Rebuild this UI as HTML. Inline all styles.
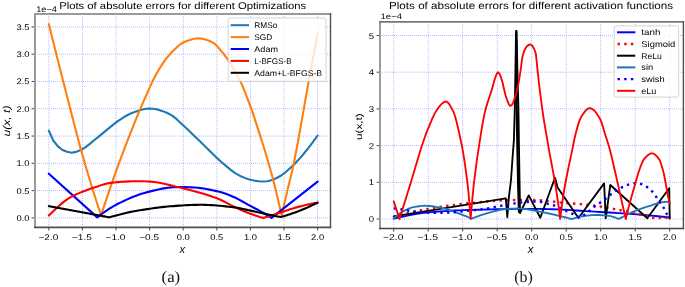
<!DOCTYPE html>
<html><head><meta charset="utf-8"><title>Plots of absolute errors</title>
<style>html,body{margin:0;padding:0;background:#fff;width:685px;height:287px;overflow:hidden}svg{display:block;will-change:transform;text-rendering:geometricPrecision}</style>
</head><body>
<svg width="685" height="287" viewBox="0 0 685 287">
<defs><clipPath id="cl"><rect x="35" y="14" width="295.5" height="213.4"/></clipPath><clipPath id="cr"><rect x="380" y="22" width="303.4" height="206.4"/></clipPath></defs>
<rect width="685" height="287" fill="#fff"/>
<g stroke="#7a7aff" stroke-opacity="0.6" stroke-width="0.9" stroke-dasharray="1 1" fill="none">
<line x1="48.85" y1="14" x2="48.85" y2="227.4"/>
<line x1="82.44" y1="14" x2="82.44" y2="227.4"/>
<line x1="116.04" y1="14" x2="116.04" y2="227.4"/>
<line x1="149.63" y1="14" x2="149.63" y2="227.4"/>
<line x1="183.23" y1="14" x2="183.23" y2="227.4"/>
<line x1="216.82" y1="14" x2="216.82" y2="227.4"/>
<line x1="250.42" y1="14" x2="250.42" y2="227.4"/>
<line x1="284.01" y1="14" x2="284.01" y2="227.4"/>
<line x1="317.61" y1="14" x2="317.61" y2="227.4"/>
<line x1="35" y1="217.90" x2="330.5" y2="217.90"/>
<line x1="35" y1="190.62" x2="330.5" y2="190.62"/>
<line x1="35" y1="163.33" x2="330.5" y2="163.33"/>
<line x1="35" y1="136.05" x2="330.5" y2="136.05"/>
<line x1="35" y1="108.76" x2="330.5" y2="108.76"/>
<line x1="35" y1="81.47" x2="330.5" y2="81.47"/>
<line x1="35" y1="54.19" x2="330.5" y2="54.19"/>
<line x1="35" y1="26.91" x2="330.5" y2="26.91"/>
<line x1="393.70" y1="22" x2="393.70" y2="228.4"/>
<line x1="428.20" y1="22" x2="428.20" y2="228.4"/>
<line x1="462.70" y1="22" x2="462.70" y2="228.4"/>
<line x1="497.20" y1="22" x2="497.20" y2="228.4"/>
<line x1="531.70" y1="22" x2="531.70" y2="228.4"/>
<line x1="566.20" y1="22" x2="566.20" y2="228.4"/>
<line x1="600.70" y1="22" x2="600.70" y2="228.4"/>
<line x1="635.20" y1="22" x2="635.20" y2="228.4"/>
<line x1="669.70" y1="22" x2="669.70" y2="228.4"/>
<line x1="380" y1="219.00" x2="683.4" y2="219.00"/>
<line x1="380" y1="182.30" x2="683.4" y2="182.30"/>
<line x1="380" y1="145.60" x2="683.4" y2="145.60"/>
<line x1="380" y1="108.90" x2="683.4" y2="108.90"/>
<line x1="380" y1="72.20" x2="683.4" y2="72.20"/>
<line x1="380" y1="35.50" x2="683.4" y2="35.50"/>
</g>
<g clip-path="url(#cl)" fill="none" stroke-width="2.1" stroke-linejoin="round" stroke-linecap="round">
<path d="M48.85,130.59 L53.41,140.72 L57.96,146.42 L62.52,150.04 L67.07,151.84 L71.63,152.71 L76.18,151.88 L80.74,150.01 L85.29,147.38 L89.85,143.83 L94.40,139.98 L98.96,136.31 L103.51,132.61 L108.07,128.88 L112.62,125.10 L117.18,121.61 L121.73,118.53 L126.29,115.72 L130.84,113.40 L135.40,111.64 L139.96,110.15 L144.51,109.04 L149.07,108.49 L153.62,108.70 L158.18,109.64 L162.73,111.14 L167.29,113.05 L171.84,115.37 L176.40,118.92 L180.95,123.22 L185.51,127.55 L190.06,131.79 L194.62,136.17 L199.17,140.60 L203.73,145.01 L208.28,149.45 L212.84,153.97 L217.39,158.40 L221.95,162.54 L226.50,166.41 L231.06,170.16 L235.62,173.45 L240.17,175.95 L244.73,177.87 L249.28,179.45 L253.84,180.58 L258.39,181.20 L262.95,181.45 L267.50,181.21 L272.06,179.97 L276.61,178.02 L281.17,175.53 L285.72,172.05 L290.28,168.01 L294.83,163.73 L299.39,158.82 L303.94,153.49 L308.50,147.89 L313.05,141.86 L317.61,135.50" stroke="#1f77b4"/>
<path d="M48.85,24.18 L49.74,27.76 L50.62,31.33 L51.51,34.89 L52.39,38.45 L53.28,42.01 L54.17,45.55 L55.05,49.09 L55.94,52.63 L56.82,56.15 L57.71,59.67 L58.60,63.19 L59.48,66.69 L60.37,70.19 L61.25,73.68 L62.14,77.17 L63.03,80.64 L63.91,84.11 L64.80,87.58 L65.68,91.03 L66.57,94.48 L67.46,97.92 L68.34,101.36 L69.23,104.80 L70.11,108.25 L71.00,111.71 L71.89,115.17 L72.77,118.63 L73.66,122.07 L74.54,125.51 L75.43,128.93 L76.32,132.33 L77.20,135.71 L78.09,139.05 L78.97,142.37 L79.86,145.65 L80.75,148.89 L81.63,152.08 L82.52,155.23 L83.40,158.33 L84.29,161.39 L85.18,164.44 L86.06,167.48 L86.95,170.49 L87.83,173.48 L88.72,176.44 L89.61,179.39 L90.49,182.31 L91.38,185.20 L92.26,188.07 L93.15,190.92 L94.04,193.73 L94.92,196.52 L95.81,199.28 L96.69,202.01 L97.58,204.71 L98.47,207.37 L99.35,210.01 L100.24,212.61 L101.12,215.17 L104.18,205.85 L107.25,196.68 L110.31,187.66 L113.37,178.83 L116.43,170.19 L119.49,161.78 L122.55,153.59 L125.61,145.53 L128.67,137.60 L131.74,129.80 L134.80,122.16 L137.86,114.69 L140.92,107.42 L143.98,100.36 L147.04,93.41 L150.10,86.58 L153.16,80.09 L156.22,74.15 L159.29,68.93 L162.35,64.11 L165.41,59.71 L168.47,55.86 L171.53,52.58 L174.59,49.40 L177.65,46.46 L180.71,43.99 L183.77,42.24 L186.84,41.00 L189.90,39.91 L192.96,39.05 L196.02,38.50 L199.08,38.38 L202.14,38.74 L205.20,39.51 L208.26,40.58 L211.32,41.84 L214.39,43.62 L217.45,46.62 L220.51,50.23 L223.57,53.90 L226.63,57.95 L229.69,62.43 L232.75,67.31 L235.81,72.55 L238.87,78.15 L241.94,84.64 L245.00,92.05 L248.06,100.04 L251.12,108.29 L254.18,117.14 L257.24,126.63 L260.30,136.15 L263.36,145.78 L266.42,155.73 L269.49,166.21 L272.55,177.48 L275.61,189.61 L278.67,202.42 L281.73,215.72 L282.34,212.96 L282.95,210.22 L283.55,207.48 L284.16,204.77 L284.77,202.06 L285.38,199.37 L285.99,196.69 L286.60,194.02 L287.20,191.36 L287.81,188.73 L288.42,186.18 L289.03,183.68 L289.64,181.21 L290.24,178.75 L290.85,176.26 L291.46,173.73 L292.07,171.13 L292.68,168.44 L293.28,165.62 L293.89,162.69 L294.50,159.69 L295.11,156.63 L295.72,153.51 L296.33,150.34 L296.93,147.13 L297.54,143.87 L298.15,140.57 L298.76,137.24 L299.37,133.88 L299.97,130.49 L300.58,127.07 L301.19,123.64 L301.80,120.19 L302.41,116.73 L303.01,113.27 L303.62,109.81 L304.23,106.34 L304.84,102.88 L305.45,99.43 L306.06,96.00 L306.66,92.59 L307.27,89.19 L307.88,85.83 L308.49,82.49 L309.10,79.19 L309.70,75.89 L310.31,72.60 L310.92,69.32 L311.53,66.04 L312.14,62.76 L312.74,59.49 L313.35,56.22 L313.96,52.95 L314.57,49.69 L315.18,46.43 L315.79,43.18 L316.39,39.94 L317.00,36.69 L317.61,33.45" stroke="#ff7f0e"/>
<path d="M48.85,173.70 L97.23,217.35 L100.18,215.17 L103.13,213.02 L106.09,210.94 L109.04,208.95 L112.00,207.08 L114.95,205.34 L117.91,203.76 L120.86,202.35 L123.81,200.97 L126.77,199.62 L129.72,198.32 L132.68,197.08 L135.63,195.90 L138.58,194.81 L141.54,193.81 L144.49,192.91 L147.45,192.13 L150.40,191.38 L153.35,190.63 L156.31,189.92 L159.26,189.24 L162.22,188.63 L165.17,188.11 L168.12,187.69 L171.08,187.40 L174.03,187.23 L176.99,187.12 L179.94,187.07 L182.90,187.06 L185.85,187.10 L188.80,187.19 L191.76,187.33 L194.71,187.52 L197.67,187.76 L200.62,188.10 L203.57,188.54 L206.53,189.04 L209.48,189.61 L212.44,190.22 L215.39,190.85 L218.34,191.51 L221.30,192.31 L224.25,193.25 L227.21,194.31 L230.16,195.46 L233.11,196.69 L236.07,198.06 L239.02,199.60 L241.98,201.25 L244.93,202.94 L247.89,204.61 L250.84,206.20 L253.79,207.73 L256.75,209.26 L259.70,210.83 L262.66,212.47 L265.61,214.20 L268.56,216.02 L271.52,217.90 L317.61,181.61" stroke="#0000ff"/>
<path d="M48.85,215.50 L52.49,211.95 L56.13,208.48 L59.77,205.16 L63.40,202.11 L67.04,199.41 L70.68,197.15 L74.32,195.32 L77.96,193.65 L81.60,192.10 L85.24,190.67 L88.87,189.34 L92.51,188.11 L96.15,186.89 L99.79,185.62 L103.43,184.43 L107.07,183.48 L110.70,182.89 L114.34,182.48 L117.98,182.12 L121.62,181.82 L125.26,181.58 L128.90,181.41 L132.54,181.31 L136.17,181.25 L139.81,181.25 L143.45,181.31 L147.09,181.43 L150.73,181.64 L154.37,182.00 L158.01,182.54 L161.64,183.22 L165.28,184.02 L168.92,184.88 L172.56,185.78 L176.20,186.69 L179.84,187.56 L183.47,188.41 L187.11,189.30 L190.75,190.22 L194.39,191.18 L198.03,192.19 L201.67,193.24 L205.31,194.35 L208.94,195.51 L212.58,196.74 L216.22,198.03 L219.86,199.50 L223.50,201.26 L227.14,203.17 L230.78,205.09 L234.41,206.89 L238.05,208.56 L241.69,210.22 L245.33,211.79 L248.97,213.24 L252.61,214.56 L256.25,215.81 L259.88,216.93 L263.52,217.90 L264.44,217.61 L265.36,217.32 L266.27,217.03 L267.19,216.74 L268.11,216.45 L269.02,216.16 L269.94,215.87 L270.86,215.58 L271.77,215.29 L272.69,215.00 L273.61,214.71 L274.52,214.42 L275.44,214.12 L276.36,213.83 L277.27,213.54 L278.19,213.25 L279.11,212.95 L280.02,212.65 L280.94,212.35 L281.86,212.04 L282.77,211.73 L283.69,211.42 L284.61,211.12 L285.52,210.81 L286.44,210.50 L287.36,210.19 L288.27,209.89 L289.19,209.59 L290.11,209.29 L291.02,209.00 L291.94,208.71 L292.86,208.43 L293.77,208.15 L294.69,207.88 L295.61,207.62 L296.52,207.36 L297.44,207.12 L298.36,206.87 L299.28,206.63 L300.19,206.39 L301.11,206.16 L302.03,205.92 L302.94,205.69 L303.86,205.47 L304.78,205.24 L305.69,205.02 L306.61,204.81 L307.53,204.60 L308.44,204.39 L309.36,204.19 L310.28,203.99 L311.19,203.80 L312.11,203.61 L313.03,203.43 L313.94,203.26 L314.86,203.09 L315.78,202.93 L316.69,202.77 L317.61,202.62" stroke="#ff0000"/>
<path d="M48.85,206.17 L49.87,206.35 L50.90,206.54 L51.92,206.73 L52.95,206.92 L53.97,207.10 L55.00,207.29 L56.02,207.48 L57.05,207.67 L58.07,207.85 L59.10,208.04 L60.12,208.23 L61.15,208.42 L62.17,208.61 L63.20,208.79 L64.22,208.98 L65.25,209.17 L66.27,209.36 L67.30,209.55 L68.32,209.74 L69.35,209.93 L70.37,210.11 L71.40,210.30 L72.42,210.49 L73.45,210.68 L74.47,210.87 L75.50,211.06 L76.52,211.25 L77.55,211.44 L78.57,211.63 L79.60,211.82 L80.62,212.01 L81.65,212.20 L82.67,212.39 L83.70,212.58 L84.72,212.77 L85.75,212.96 L86.77,213.15 L87.80,213.34 L88.82,213.53 L89.85,213.72 L90.87,213.91 L91.90,214.10 L92.92,214.29 L93.95,214.48 L94.97,214.67 L96.00,214.86 L97.02,215.05 L98.05,215.25 L99.07,215.44 L100.10,215.63 L101.12,215.82 L102.15,216.01 L103.17,216.20 L104.20,216.39 L105.22,216.59 L106.25,216.78 L107.27,216.97 L108.30,217.16 L109.32,217.35 L112.23,216.53 L115.13,215.72 L118.04,214.93 L120.95,214.16 L123.85,213.43 L126.76,212.75 L129.66,212.11 L132.57,211.53 L135.48,211.02 L138.38,210.54 L141.29,210.06 L144.20,209.60 L147.10,209.15 L150.01,208.71 L152.91,208.29 L155.82,207.89 L158.73,207.51 L161.63,207.16 L164.54,206.84 L167.45,206.55 L170.35,206.30 L173.26,206.08 L176.16,205.86 L179.07,205.66 L181.98,205.47 L184.88,205.29 L187.79,205.14 L190.70,205.01 L193.60,204.90 L196.51,204.84 L199.41,204.80 L202.32,204.81 L205.23,204.87 L208.13,204.98 L211.04,205.13 L213.95,205.32 L216.85,205.54 L219.76,205.80 L222.66,206.07 L225.57,206.37 L228.48,206.69 L231.38,207.02 L234.29,207.37 L237.20,207.83 L240.10,208.37 L243.01,208.97 L245.91,209.60 L248.82,210.23 L251.73,210.85 L254.63,211.51 L257.54,212.18 L260.45,212.85 L263.35,213.50 L266.26,214.12 L269.16,214.73 L272.07,215.34 L274.98,215.93 L277.88,216.51 L280.79,217.08 L281.41,216.90 L282.04,216.72 L282.66,216.54 L283.29,216.36 L283.91,216.17 L284.53,215.98 L285.16,215.79 L285.78,215.60 L286.41,215.40 L287.03,215.20 L287.65,215.00 L288.28,214.80 L288.90,214.59 L289.53,214.38 L290.15,214.17 L290.77,213.96 L291.40,213.75 L292.02,213.53 L292.65,213.31 L293.27,213.09 L293.90,212.86 L294.52,212.64 L295.14,212.41 L295.77,212.18 L296.39,211.95 L297.02,211.72 L297.64,211.48 L298.26,211.24 L298.89,211.00 L299.51,210.76 L300.14,210.51 L300.76,210.26 L301.38,210.01 L302.01,209.76 L302.63,209.50 L303.26,209.24 L303.88,208.98 L304.50,208.72 L305.13,208.45 L305.75,208.18 L306.38,207.91 L307.00,207.64 L307.62,207.36 L308.25,207.08 L308.87,206.80 L309.50,206.52 L310.12,206.23 L310.75,205.94 L311.37,205.65 L311.99,205.36 L312.62,205.06 L313.24,204.77 L313.87,204.47 L314.49,204.16 L315.11,203.86 L315.74,203.55 L316.36,203.24 L316.99,202.93 L317.61,202.62" stroke="#000000"/>
</g>
<g clip-path="url(#cr)" fill="none" stroke-width="1.85" stroke-linejoin="round" stroke-linecap="round">
<path d="M393.70,218.63 L398.38,217.60 L403.06,216.57 L407.73,215.58 L412.41,214.65 L417.09,213.82 L421.77,213.11 L426.45,212.56 L431.12,212.15 L435.80,211.76 L440.48,211.40 L445.16,211.07 L449.84,210.78 L454.51,210.52 L459.19,210.32 L463.87,210.16 L468.55,210.01 L473.23,209.87 L477.90,209.73 L482.58,209.60 L487.26,209.48 L491.94,209.36 L496.62,209.25 L501.29,209.16 L505.97,209.08 L510.65,209.01 L515.33,208.95 L520.01,208.90 L524.68,208.86 L529.36,208.85 L534.04,208.85 L538.72,208.89 L543.39,208.97 L548.07,209.09 L552.75,209.25 L557.43,209.45 L562.11,209.68 L566.78,209.93 L571.46,210.20 L576.14,210.49 L580.82,210.79 L585.50,211.09 L590.17,211.39 L594.85,211.68 L599.53,211.96 L604.21,212.23 L608.89,212.50 L613.56,212.79 L618.24,213.08 L622.92,213.38 L627.60,213.70 L632.28,214.02 L636.95,214.36 L641.63,214.72 L646.31,215.12 L650.99,215.55 L655.67,216.01 L660.34,216.50 L665.02,217.01 L669.70,217.53" stroke="#0000ff"/>
<path d="M393.70,216.80 L398.38,215.36 L403.06,214.14 L407.73,213.07 L412.41,212.02 L417.09,211.01 L421.77,210.04 L426.45,209.13 L431.12,208.29 L435.80,207.52 L440.48,206.82 L445.16,206.15 L449.84,205.51 L454.51,204.90 L459.19,204.32 L463.87,203.77 L468.55,203.26 L473.23,202.79 L477.90,202.33 L482.58,201.87 L487.26,201.45 L491.94,201.07 L496.62,200.76 L501.29,200.53 L505.97,200.33 L510.65,200.17 L515.33,200.04 L520.01,199.96 L524.68,199.93 L529.36,199.96 L534.04,200.06 L538.72,200.22 L543.39,200.51 L548.07,200.95 L552.75,201.50 L557.43,202.08 L562.11,202.62 L566.78,203.05 L571.46,203.40 L576.14,203.75 L580.82,204.17 L585.50,204.66 L590.17,205.19 L594.85,205.77 L599.53,206.40 L604.21,207.14 L608.89,207.98 L613.56,208.89 L618.24,209.88 L622.92,210.72 L627.60,211.52 L632.28,212.45 L636.95,213.66 L641.63,215.00 L646.31,216.21 L650.99,217.43 L655.67,218.22 L660.34,217.87 L665.02,217.59 L669.70,218.27" stroke="#ff0000" stroke-width="2.4" stroke-dasharray="2.4 4.3" stroke-linecap="butt"/>
<path d="M393.70,216.43 L505.80,198.30 L507.30,217.30 L508.90,197.00 L511.00,180.00 L512.60,157.00 L513.90,140.00 L514.80,108.00 L515.60,60.00 L516.00,31.00 L516.60,31.00 L517.40,70.00 L518.40,108.00 L519.00,148.00 L519.70,190.00 L520.00,213.00 L528.70,195.40 L540.30,217.80 L555.00,177.80 L557.60,187.40 L578.50,218.00 L604.10,183.40 L605.70,218.30 L610.30,185.00 L647.30,218.30 L669.20,188.30 L669.70,218.50" stroke="#000000"/>
<path d="M516.20,40.00 L516.70,108.00 L517.40,148.00 L518.30,190.00 L519.00,212.00" stroke="#000000" stroke-width="2.2"/>
<path d="M393.70,218.27 L395.02,217.15 L396.34,216.05 L397.66,215.00 L398.99,214.00 L400.31,213.08 L401.63,212.24 L402.95,211.51 L404.27,210.81 L405.59,210.12 L406.92,209.46 L408.24,208.84 L409.56,208.28 L410.88,207.81 L412.20,207.43 L413.52,207.16 L414.84,206.92 L416.17,206.69 L417.49,206.47 L418.81,206.27 L420.13,206.09 L421.45,205.95 L422.77,205.84 L424.10,205.78 L425.42,205.77 L426.74,205.81 L428.06,205.89 L429.38,205.99 L430.70,206.12 L432.02,206.27 L433.35,206.44 L434.67,206.64 L435.99,206.85 L437.31,207.08 L438.63,207.32 L439.95,207.58 L441.27,207.84 L442.60,208.12 L443.92,208.44 L445.24,208.79 L446.56,209.18 L447.88,209.60 L449.20,210.05 L450.53,210.50 L451.85,210.98 L453.17,211.45 L454.49,211.93 L455.81,212.40 L457.13,212.87 L458.45,213.35 L459.78,213.84 L461.10,214.34 L462.42,214.85 L463.74,215.37 L465.06,215.90 L466.38,216.43 L467.71,216.97 L469.03,217.52 L470.35,218.07 L471.67,218.63 L473.36,217.96 L475.05,217.30 L476.75,216.66 L478.44,216.03 L480.13,215.43 L481.82,214.85 L483.52,214.30 L485.21,213.78 L486.90,213.30 L488.59,212.83 L490.28,212.36 L491.98,211.89 L493.67,211.44 L495.36,211.00 L497.05,210.58 L498.75,210.19 L500.44,209.85 L502.13,209.54 L503.82,209.29 L505.52,209.09 L507.21,208.93 L508.90,208.79 L510.59,208.68 L512.28,208.60 L513.98,208.55 L515.67,208.52 L517.36,208.54 L519.05,208.59 L520.75,208.68 L522.44,208.81 L524.13,208.99 L525.82,209.19 L527.51,209.43 L529.21,209.69 L530.90,209.97 L532.59,210.27 L534.28,210.58 L535.98,210.90 L537.67,211.22 L539.36,211.54 L541.05,211.86 L542.74,212.20 L544.44,212.54 L546.13,212.89 L547.82,213.25 L549.51,213.62 L551.21,213.99 L552.90,214.38 L554.59,214.77 L556.28,215.17 L557.97,215.57 L559.67,215.99 L561.36,216.40 L563.05,216.82 L564.74,217.25 L566.44,217.68 L568.13,218.12 L569.82,218.56 L571.51,219.00 L572.31,218.77 L573.12,218.54 L573.92,218.31 L574.72,218.08 L575.52,217.86 L576.32,217.64 L577.12,217.43 L577.92,217.22 L578.72,217.03 L579.52,216.84 L580.33,216.66 L581.13,216.50 L581.93,216.35 L582.73,216.22 L583.53,216.10 L584.33,215.99 L585.13,215.89 L585.93,215.79 L586.73,215.69 L587.54,215.60 L588.34,215.51 L589.14,215.42 L589.94,215.34 L590.74,215.27 L591.54,215.20 L592.34,215.14 L593.14,215.09 L593.94,215.04 L594.74,215.00 L595.55,214.97 L596.35,214.96 L597.15,214.95 L597.95,214.96 L598.75,214.98 L599.55,215.01 L600.35,215.05 L601.15,215.10 L601.95,215.16 L602.76,215.23 L603.56,215.30 L604.36,215.38 L605.16,215.47 L605.96,215.56 L606.76,215.65 L607.56,215.75 L608.36,215.85 L609.16,215.95 L609.97,216.06 L610.77,216.18 L611.57,216.35 L612.37,216.55 L613.17,216.79 L613.97,217.06 L614.77,217.36 L615.57,217.67 L616.37,217.99 L617.18,218.33 L617.98,218.66 L618.78,219.00 L619.64,218.54 L620.50,218.08 L621.37,217.62 L622.23,217.17 L623.09,216.72 L623.96,216.27 L624.82,215.83 L625.68,215.39 L626.55,214.95 L627.41,214.52 L628.27,214.10 L629.14,213.68 L630.00,213.27 L630.86,212.86 L631.72,212.46 L632.59,212.07 L633.45,211.69 L634.31,211.31 L635.18,210.94 L636.04,210.59 L636.90,210.24 L637.77,209.90 L638.63,209.57 L639.49,209.25 L640.36,208.94 L641.22,208.63 L642.08,208.33 L642.94,208.04 L643.81,207.75 L644.67,207.46 L645.53,207.18 L646.40,206.90 L647.26,206.63 L648.12,206.35 L648.99,206.08 L649.85,205.81 L650.71,205.53 L651.58,205.26 L652.44,204.97 L653.30,204.67 L654.16,204.37 L655.03,204.08 L655.89,203.78 L656.75,203.50 L657.62,203.24 L658.48,202.99 L659.34,202.77 L660.21,202.58 L661.07,202.43 L661.93,202.29 L662.80,202.16 L663.66,202.06 L664.52,201.96 L665.38,201.88 L666.25,201.82 L667.11,201.78 L667.97,201.75 L668.84,201.74 L669.70,201.75" stroke="#1f77b4"/>
<path d="M393.70,208.36 L396.85,208.61 L399.99,209.01 L403.14,209.52 L406.28,210.14 L409.43,210.77 L412.58,211.40 L415.72,211.80 L418.87,212.08 L422.01,212.30 L425.16,212.47 L428.31,212.58 L431.45,212.66 L434.60,212.73 L437.74,212.77 L440.89,212.77 L444.03,212.72 L447.18,212.59 L450.33,212.42 L453.47,212.20 L456.62,211.96 L459.76,211.66 L462.91,211.32 L466.06,210.96 L469.20,210.60 L472.35,210.28 L475.49,209.97 L478.64,209.66 L481.79,209.30 L484.93,208.87 L488.08,208.32 L491.22,207.71 L494.37,207.07 L497.52,206.46 L500.66,205.86 L503.81,205.25 L506.95,204.65 L510.10,204.10 L513.25,203.60 L516.39,203.13 L519.54,202.71 L522.68,202.34 L525.83,202.02 L528.98,201.76 L532.12,201.59 L535.27,201.53 L538.41,201.63 L541.56,202.00 L544.70,202.90 L547.85,203.80 L551.00,204.58 L554.14,205.47 L557.29,206.75 L560.43,208.19 L563.58,209.59 L566.73,211.03 L569.87,212.51 L573.02,214.07 L576.16,215.76 L579.31,217.53 L580.84,216.88 L582.37,216.08 L583.91,215.14 L585.44,214.11 L586.97,213.01 L588.50,211.77 L590.03,210.27 L591.57,208.78 L593.10,207.53 L594.63,206.44 L596.16,205.42 L597.69,204.39 L599.23,203.33 L600.76,202.28 L602.29,201.20 L603.82,200.08 L605.35,198.92 L606.89,197.72 L608.42,196.51 L609.95,195.22 L611.48,193.90 L613.01,192.65 L614.55,191.54 L616.08,190.51 L617.61,189.56 L619.14,188.71 L620.67,187.93 L622.21,187.19 L623.74,186.50 L625.27,185.85 L626.80,185.21 L628.34,184.59 L629.87,184.06 L631.40,183.68 L632.93,183.42 L634.46,183.25 L636.00,183.19 L637.53,183.23 L639.06,183.46 L640.59,183.88 L642.12,184.42 L643.66,185.03 L645.19,185.73 L646.72,186.73 L648.25,187.91 L649.78,189.15 L651.32,190.54 L652.85,192.16 L654.38,194.03 L655.91,196.34 L657.44,198.68 L658.98,200.83 L660.51,202.97 L662.04,205.17 L663.57,207.47 L665.10,210.35 L666.64,213.90 L668.17,216.47 L669.70,218.27" stroke="#0000ff" stroke-width="2.4" stroke-dasharray="2.4 4.3" stroke-linecap="butt"/>
<path d="M393.70,201.38 L399.50,219.00 L400.70,215.14 L401.91,211.27 L403.11,207.39 L404.32,203.51 L405.52,199.61 L406.73,195.70 L407.94,191.78 L409.14,187.86 L410.35,183.93 L411.55,179.99 L412.76,176.00 L413.96,171.96 L415.17,167.89 L416.38,163.82 L417.58,159.78 L418.79,155.77 L419.99,151.84 L421.20,148.00 L422.41,144.27 L423.61,140.68 L424.82,137.21 L426.02,133.89 L427.23,130.74 L428.43,127.79 L429.64,124.90 L430.85,122.02 L432.05,119.22 L433.26,116.55 L434.46,114.08 L435.67,111.85 L436.87,109.93 L438.08,108.22 L439.29,106.62 L440.49,105.18 L441.70,103.92 L442.90,102.89 L444.11,102.11 L445.31,101.63 L446.52,101.62 L447.73,102.40 L448.93,103.78 L450.14,105.61 L451.34,107.69 L452.55,109.86 L453.75,112.47 L454.96,116.01 L456.17,120.31 L457.37,125.19 L458.58,130.47 L459.78,135.98 L460.99,141.52 L462.19,147.30 L463.40,154.11 L464.61,161.85 L465.81,170.37 L467.02,179.53 L468.22,189.75 L469.43,203.35 L470.63,219.00 L472.15,200.86 L473.67,185.36 L475.19,172.82 L476.70,161.46 L478.22,151.15 L479.74,141.41 L481.25,131.70 L482.77,122.60 L484.29,114.72 L485.80,108.53 L487.32,103.37 L488.84,98.72 L490.35,94.22 L491.87,89.45 L493.39,84.03 L494.90,78.71 L496.42,74.44 L497.94,72.22 L499.45,73.63 L500.97,77.46 L502.49,82.33 L504.01,89.00 L505.52,95.17 L507.04,99.78 L508.56,103.69 L510.07,105.85 L511.59,105.39 L513.11,102.69 L514.62,98.65 L516.14,93.96 L517.66,87.20 L519.17,79.37 L520.69,69.79 L522.21,57.85 L523.72,52.15 L525.24,48.80 L526.76,46.52 L528.27,45.12 L529.79,44.41 L531.31,44.78 L532.83,46.46 L534.34,49.44 L535.86,53.73 L537.38,68.42 L538.89,82.70 L540.41,94.82 L541.93,106.71 L543.44,117.06 L544.96,126.48 L546.48,135.46 L547.99,144.21 L549.51,152.83 L551.03,160.97 L552.54,168.90 L554.06,177.04 L555.58,185.82 L557.09,195.77 L558.61,206.97 L560.13,219.00 L561.24,210.39 L562.35,202.14 L563.47,194.48 L564.58,187.64 L565.69,181.53 L566.81,175.77 L567.92,170.25 L569.03,164.91 L570.15,159.65 L571.26,154.40 L572.37,149.07 L573.49,143.48 L574.60,138.08 L575.71,133.58 L576.83,129.36 L577.94,125.39 L579.06,121.86 L580.17,118.94 L581.28,116.80 L582.40,115.05 L583.51,113.39 L584.62,111.86 L585.74,110.53 L586.85,109.44 L587.96,108.65 L589.08,108.23 L590.19,108.20 L591.30,108.50 L592.42,109.07 L593.53,109.90 L594.64,110.96 L595.76,112.25 L596.87,113.73 L597.98,115.39 L599.10,117.21 L600.21,119.18 L601.32,121.86 L602.44,125.26 L603.55,129.01 L604.66,132.77 L605.78,136.26 L606.89,139.69 L608.00,143.21 L609.12,146.93 L610.23,150.99 L611.34,155.45 L612.46,160.18 L613.57,165.05 L614.68,169.92 L615.80,174.75 L616.91,179.66 L618.02,184.62 L619.14,189.62 L620.25,194.72 L621.36,199.80 L622.48,204.73 L623.59,209.56 L624.70,214.32 L625.82,219.00 L626.56,215.87 L627.30,212.80 L628.05,209.78 L628.79,206.83 L629.53,203.96 L630.28,201.18 L631.02,198.46 L631.77,195.80 L632.51,193.18 L633.25,190.59 L634.00,188.02 L634.74,185.47 L635.49,182.92 L636.23,180.36 L636.97,177.72 L637.72,175.04 L638.46,172.52 L639.20,170.34 L639.95,168.29 L640.69,166.29 L641.44,164.39 L642.18,162.63 L642.92,161.05 L643.67,159.71 L644.41,158.65 L645.15,157.81 L645.90,157.02 L646.64,156.28 L647.39,155.60 L648.13,154.98 L648.87,154.44 L649.62,154.00 L650.36,153.65 L651.11,153.42 L651.85,153.31 L652.59,153.36 L653.34,153.60 L654.08,153.99 L654.82,154.53 L655.57,155.17 L656.31,155.90 L657.06,156.70 L657.80,157.54 L658.54,158.39 L659.29,159.47 L660.03,161.02 L660.77,162.97 L661.52,165.24 L662.26,167.74 L663.01,170.41 L663.75,173.36 L664.49,176.86 L665.24,180.75 L665.98,184.89 L666.72,189.10 L667.47,193.24 L668.21,197.15 L668.96,200.66 L669.70,203.59" stroke="#ff0000"/>
</g>
<g fill="none">
<line x1="35" y1="13" x2="35" y2="228" stroke="#9a9a9a" stroke-width="2"/>
<line x1="34" y1="14" x2="331.2" y2="14" stroke="#9a9a9a" stroke-width="2"/>
<line x1="330.5" y1="13" x2="330.5" y2="228.2" stroke="#505050" stroke-width="1.4"/>
<line x1="34" y1="227.4" x2="331.2" y2="227.4" stroke="#505050" stroke-width="1.6"/>
<line x1="380" y1="21" x2="380" y2="229.2" stroke="#9a9a9a" stroke-width="2"/>
<line x1="379" y1="21.9" x2="684" y2="21.9" stroke="#777" stroke-width="1.7"/>
<line x1="683.4" y1="21" x2="683.4" y2="229.2" stroke="#505050" stroke-width="1.4"/>
<line x1="379" y1="228.5" x2="684" y2="228.5" stroke="#444" stroke-width="1.5"/>
</g>
<g stroke="#333" stroke-width="0.9">
<line x1="48.85" y1="228" x2="48.85" y2="230.5"/>
<line x1="393.70" y1="229" x2="393.70" y2="231.5"/>
<line x1="82.44" y1="228" x2="82.44" y2="230.5"/>
<line x1="428.20" y1="229" x2="428.20" y2="231.5"/>
<line x1="116.04" y1="228" x2="116.04" y2="230.5"/>
<line x1="462.70" y1="229" x2="462.70" y2="231.5"/>
<line x1="149.63" y1="228" x2="149.63" y2="230.5"/>
<line x1="497.20" y1="229" x2="497.20" y2="231.5"/>
<line x1="183.23" y1="228" x2="183.23" y2="230.5"/>
<line x1="531.70" y1="229" x2="531.70" y2="231.5"/>
<line x1="216.82" y1="228" x2="216.82" y2="230.5"/>
<line x1="566.20" y1="229" x2="566.20" y2="231.5"/>
<line x1="250.42" y1="228" x2="250.42" y2="230.5"/>
<line x1="600.70" y1="229" x2="600.70" y2="231.5"/>
<line x1="284.01" y1="228" x2="284.01" y2="230.5"/>
<line x1="635.20" y1="229" x2="635.20" y2="231.5"/>
<line x1="317.61" y1="228" x2="317.61" y2="230.5"/>
<line x1="669.70" y1="229" x2="669.70" y2="231.5"/>
<line x1="31.6" y1="217.90" x2="34" y2="217.90"/>
<line x1="31.6" y1="190.62" x2="34" y2="190.62"/>
<line x1="31.6" y1="163.33" x2="34" y2="163.33"/>
<line x1="31.6" y1="136.05" x2="34" y2="136.05"/>
<line x1="31.6" y1="108.76" x2="34" y2="108.76"/>
<line x1="31.6" y1="81.47" x2="34" y2="81.47"/>
<line x1="31.6" y1="54.19" x2="34" y2="54.19"/>
<line x1="31.6" y1="26.91" x2="34" y2="26.91"/>
<line x1="376.6" y1="219.00" x2="379" y2="219.00"/>
<line x1="376.6" y1="182.30" x2="379" y2="182.30"/>
<line x1="376.6" y1="145.60" x2="379" y2="145.60"/>
<line x1="376.6" y1="108.90" x2="379" y2="108.90"/>
<line x1="376.6" y1="72.20" x2="379" y2="72.20"/>
<line x1="376.6" y1="35.50" x2="379" y2="35.50"/>
</g>
<g font-family="&quot;Liberation Sans&quot;, sans-serif" fill="#000">
<text x="59.20" y="8.60" font-size="9.85" text-anchor="start" textLength="247.00" lengthAdjust="spacingAndGlyphs">Plots of absolute errors for different Optimizations</text>
<text x="389.00" y="8.50" font-size="10.1" text-anchor="start" textLength="284.00" lengthAdjust="spacingAndGlyphs">Plots of absolute errors for different activation functions</text>
<text x="36.20" y="12.00" font-size="8.2" text-anchor="start" textLength="20.80" lengthAdjust="spacingAndGlyphs">1e−4</text>
<text x="380.50" y="18.80" font-size="8.0" text-anchor="start" textLength="21.60" lengthAdjust="spacingAndGlyphs">1e−4</text>
<text x="29.50" y="220.90" font-size="8.2" text-anchor="end" textLength="13.04" lengthAdjust="spacingAndGlyphs">0.0</text>
<text x="29.50" y="193.62" font-size="8.2" text-anchor="end" textLength="13.04" lengthAdjust="spacingAndGlyphs">0.5</text>
<text x="29.50" y="166.33" font-size="8.2" text-anchor="end" textLength="13.04" lengthAdjust="spacingAndGlyphs">1.0</text>
<text x="29.50" y="139.05" font-size="8.2" text-anchor="end" textLength="13.04" lengthAdjust="spacingAndGlyphs">1.5</text>
<text x="29.50" y="111.76" font-size="8.2" text-anchor="end" textLength="13.04" lengthAdjust="spacingAndGlyphs">2.0</text>
<text x="29.50" y="84.47" font-size="8.2" text-anchor="end" textLength="13.04" lengthAdjust="spacingAndGlyphs">2.5</text>
<text x="29.50" y="57.19" font-size="8.2" text-anchor="end" textLength="13.04" lengthAdjust="spacingAndGlyphs">3.0</text>
<text x="29.50" y="29.91" font-size="8.2" text-anchor="end" textLength="13.04" lengthAdjust="spacingAndGlyphs">3.5</text>
<text x="48.35" y="240.00" font-size="8.2" text-anchor="middle" textLength="19.91" lengthAdjust="spacingAndGlyphs">−2.0</text>
<text x="81.94" y="240.00" font-size="8.2" text-anchor="middle" textLength="19.91" lengthAdjust="spacingAndGlyphs">−1.5</text>
<text x="115.54" y="240.00" font-size="8.2" text-anchor="middle" textLength="19.91" lengthAdjust="spacingAndGlyphs">−1.0</text>
<text x="149.13" y="240.00" font-size="8.2" text-anchor="middle" textLength="19.91" lengthAdjust="spacingAndGlyphs">−0.5</text>
<text x="183.23" y="240.00" font-size="8.2" text-anchor="middle" textLength="13.04" lengthAdjust="spacingAndGlyphs">0.0</text>
<text x="216.82" y="240.00" font-size="8.2" text-anchor="middle" textLength="13.04" lengthAdjust="spacingAndGlyphs">0.5</text>
<text x="250.42" y="240.00" font-size="8.2" text-anchor="middle" textLength="13.04" lengthAdjust="spacingAndGlyphs">1.0</text>
<text x="284.01" y="240.00" font-size="8.2" text-anchor="middle" textLength="13.04" lengthAdjust="spacingAndGlyphs">1.5</text>
<text x="317.61" y="240.00" font-size="8.2" text-anchor="middle" textLength="13.04" lengthAdjust="spacingAndGlyphs">2.0</text>
<text x="374.20" y="222.00" font-size="8.4" text-anchor="end" textLength="5.34" lengthAdjust="spacingAndGlyphs">0</text>
<text x="374.20" y="185.30" font-size="8.4" text-anchor="end" textLength="5.34" lengthAdjust="spacingAndGlyphs">1</text>
<text x="374.20" y="148.60" font-size="8.4" text-anchor="end" textLength="5.34" lengthAdjust="spacingAndGlyphs">2</text>
<text x="374.20" y="111.90" font-size="8.4" text-anchor="end" textLength="5.34" lengthAdjust="spacingAndGlyphs">3</text>
<text x="374.20" y="75.20" font-size="8.4" text-anchor="end" textLength="5.34" lengthAdjust="spacingAndGlyphs">4</text>
<text x="374.20" y="38.50" font-size="8.4" text-anchor="end" textLength="5.34" lengthAdjust="spacingAndGlyphs">5</text>
<text x="393.20" y="239.90" font-size="8.4" text-anchor="middle" textLength="20.40" lengthAdjust="spacingAndGlyphs">−2.0</text>
<text x="427.70" y="239.90" font-size="8.4" text-anchor="middle" textLength="20.40" lengthAdjust="spacingAndGlyphs">−1.5</text>
<text x="462.20" y="239.90" font-size="8.4" text-anchor="middle" textLength="20.40" lengthAdjust="spacingAndGlyphs">−1.0</text>
<text x="496.70" y="239.90" font-size="8.4" text-anchor="middle" textLength="20.40" lengthAdjust="spacingAndGlyphs">−0.5</text>
<text x="531.70" y="239.90" font-size="8.4" text-anchor="middle" textLength="13.36" lengthAdjust="spacingAndGlyphs">0.0</text>
<text x="566.20" y="239.90" font-size="8.4" text-anchor="middle" textLength="13.36" lengthAdjust="spacingAndGlyphs">0.5</text>
<text x="600.70" y="239.90" font-size="8.4" text-anchor="middle" textLength="13.36" lengthAdjust="spacingAndGlyphs">1.0</text>
<text x="635.20" y="239.90" font-size="8.4" text-anchor="middle" textLength="13.36" lengthAdjust="spacingAndGlyphs">1.5</text>
<text x="669.70" y="239.90" font-size="8.4" text-anchor="middle" textLength="13.36" lengthAdjust="spacingAndGlyphs">2.0</text>
<text x="182.20" y="253.20" font-size="11.2" text-anchor="middle" font-style="italic">x</text>
<text x="530.70" y="253.20" font-size="11.4" text-anchor="middle" font-style="italic">x</text>
<text transform="translate(10.3,121) rotate(-90)" x="0" y="0" font-size="10" text-anchor="middle" font-style="italic" textLength="31" lengthAdjust="spacingAndGlyphs">u(x, t)</text>
<text transform="translate(362.3,126.6) rotate(-90)" x="0" y="0" font-size="9.0" text-anchor="middle" textLength="26.6" lengthAdjust="spacingAndGlyphs">u(x,t)</text>
</g>
<rect x="228.2" y="18.0" width="97.8" height="63.3" rx="2" ry="2" fill="#fff" fill-opacity="0.8" stroke="#d0d0d0" stroke-width="0.9"/>
<line x1="230.7" y1="25.20" x2="249.0" y2="25.20" stroke="#1f77b4" stroke-width="2.0"/>
<text font-family="&quot;Liberation Sans&quot;, sans-serif" fill="#000" x="254.30" y="28.20" font-size="8.2" text-anchor="start" textLength="22.99" lengthAdjust="spacingAndGlyphs">RMSo</text>
<line x1="230.7" y1="37.10" x2="249.0" y2="37.10" stroke="#ff7f0e" stroke-width="2.0"/>
<text font-family="&quot;Liberation Sans&quot;, sans-serif" fill="#000" x="254.30" y="40.10" font-size="8.2" text-anchor="start" textLength="17.87" lengthAdjust="spacingAndGlyphs">SGD</text>
<line x1="230.7" y1="49.00" x2="249.0" y2="49.00" stroke="#0000ff" stroke-width="2.0"/>
<text font-family="&quot;Liberation Sans&quot;, sans-serif" fill="#000" x="254.30" y="52.00" font-size="8.2" text-anchor="start" textLength="23.68" lengthAdjust="spacingAndGlyphs">Adam</text>
<line x1="230.7" y1="60.90" x2="249.0" y2="60.90" stroke="#ff0000" stroke-width="2.0"/>
<text font-family="&quot;Liberation Sans&quot;, sans-serif" fill="#000" x="254.30" y="63.90" font-size="8.2" text-anchor="start" textLength="37.28" lengthAdjust="spacingAndGlyphs">L-BFGS-B</text>
<line x1="230.7" y1="72.80" x2="249.0" y2="72.80" stroke="#000" stroke-width="2.0"/>
<text font-family="&quot;Liberation Sans&quot;, sans-serif" fill="#000" x="254.30" y="75.80" font-size="8.2" text-anchor="start" textLength="67.84" lengthAdjust="spacingAndGlyphs">Adam+L-BFGS-B</text>
<rect x="614.2" y="25.9" width="64.4" height="71.2" rx="2" ry="2" fill="#fff" fill-opacity="0.8" stroke="#d0d0d0" stroke-width="0.9"/>
<line x1="617.0" y1="32.30" x2="635.3" y2="32.30" stroke="#0000ff" stroke-width="2.0"/>
<text font-family="&quot;Liberation Sans&quot;, sans-serif" fill="#000" x="641.30" y="35.30" font-size="8.4" text-anchor="start" textLength="19.09" lengthAdjust="spacingAndGlyphs">tanh</text>
<line x1="617.5" y1="44.00" x2="635.3" y2="44.00" stroke="#ff0000" stroke-width="2.4" stroke-dasharray="2.4 4.3" stroke-linecap="butt"/>
<text font-family="&quot;Liberation Sans&quot;, sans-serif" fill="#000" x="641.30" y="47.00" font-size="8.4" text-anchor="start" textLength="33.99" lengthAdjust="spacingAndGlyphs">Sigmoid</text>
<line x1="617.0" y1="55.70" x2="635.3" y2="55.70" stroke="#000" stroke-width="2.0"/>
<text font-family="&quot;Liberation Sans&quot;, sans-serif" fill="#000" x="641.30" y="58.70" font-size="8.4" text-anchor="start" textLength="20.48" lengthAdjust="spacingAndGlyphs">ReLu</text>
<line x1="617.0" y1="67.40" x2="635.3" y2="67.40" stroke="#1f77b4" stroke-width="2.0"/>
<text font-family="&quot;Liberation Sans&quot;, sans-serif" fill="#000" x="641.30" y="70.40" font-size="8.4" text-anchor="start" textLength="12.03" lengthAdjust="spacingAndGlyphs">sin</text>
<line x1="617.5" y1="79.10" x2="635.3" y2="79.10" stroke="#0000ff" stroke-width="2.4" stroke-dasharray="2.4 4.3" stroke-linecap="butt"/>
<text font-family="&quot;Liberation Sans&quot;, sans-serif" fill="#000" x="641.30" y="82.10" font-size="8.4" text-anchor="start" textLength="23.28" lengthAdjust="spacingAndGlyphs">swish</text>
<line x1="617.0" y1="90.80" x2="635.3" y2="90.80" stroke="#ff0000" stroke-width="2.0"/>
<text font-family="&quot;Liberation Sans&quot;, sans-serif" fill="#000" x="641.30" y="93.80" font-size="8.4" text-anchor="start" textLength="15.02" lengthAdjust="spacingAndGlyphs">eLu</text>
<g font-family="&quot;Liberation Serif&quot;, serif" fill="#111">
<text x="161.60" y="282.40" font-size="16" text-anchor="start" textLength="18.60" lengthAdjust="spacingAndGlyphs">(a)</text>
<text x="514.20" y="282.40" font-size="16" text-anchor="start" textLength="18.60" lengthAdjust="spacingAndGlyphs">(b)</text>
</g>
</svg>
</body></html>
